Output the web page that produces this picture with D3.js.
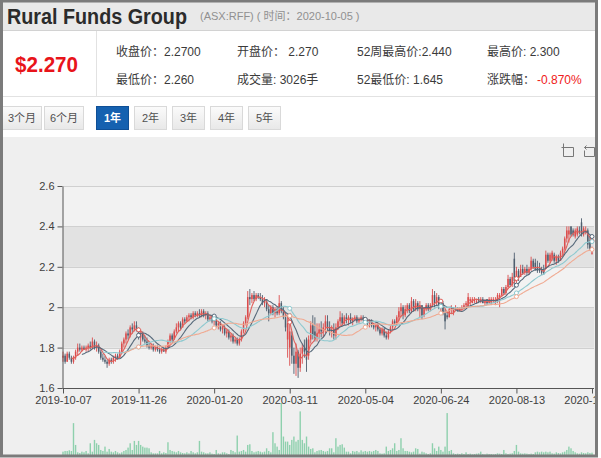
<!DOCTYPE html>
<html>
<head>
<meta charset="utf-8">
<script src="https://cdn.jsdelivr.net/npm/d3@7"></script>
<style>
  body { margin: 0; background: #fff; }
  svg { display: block; }
</style>
</head>
<body>
<svg id="chart" width="601" height="458"></svg>
<script>
// daily candles, 2019-10-07 .. 2020-10-02 (index = trading day)
const openPx = [
  1.75,1.76,1.73,1.77,1.75,1.73,1.75,1.78,1.80,1.79,
  1.80,1.79,1.80,1.81,1.80,1.83,1.80,1.81,1.78,1.75,
  1.74,1.73,1.72,1.74,1.73,1.75,1.76,1.75,1.78,1.82,
  1.84,1.87,1.86,1.90,1.89,1.91,1.89,1.85,1.87,1.84,
  1.83,1.81,1.80,1.81,1.79,1.80,1.79,1.78,1.79,1.78,
  1.80,1.83,1.86,1.84,1.88,1.90,1.92,1.90,1.94,1.93,
  1.95,1.96,1.95,1.97,1.96,1.97,1.96,1.98,1.96,1.97,
  1.94,1.95,1.93,1.94,1.91,1.92,1.89,1.90,1.87,1.88,
  1.85,1.86,1.83,1.84,1.82,1.84,1.88,1.92,1.95,2.05,
  2.04,2.06,2.04,2.06,2.05,2.04,2.02,2.03,1.99,1.97,
  2.00,1.97,1.99,1.97,2.02,1.98,1.95,1.84,1.80,1.86,
  1.76,1.72,1.78,1.70,1.77,1.80,1.84,1.76,1.84,1.91,
  1.88,1.85,1.87,1.89,1.88,1.90,1.93,1.90,1.88,1.89,
  1.86,1.90,1.93,1.95,1.92,1.95,1.94,1.95,1.93,1.94,
  1.95,1.93,1.94,1.95,1.94,1.93,1.92,1.93,1.91,1.90,
  1.91,1.89,1.87,1.89,1.86,1.85,1.88,1.90,1.93,1.92,
  1.95,1.98,2.00,1.96,1.99,2.01,1.98,2.03,1.99,2.02,
  1.99,2.01,1.96,1.99,2.01,1.99,2.01,2.06,2.02,2.05,
  2.00,2.02,1.97,1.96,1.95,1.99,1.97,1.99,1.99,1.98,
  1.99,2.00,2.01,2.00,2.03,2.02,2.03,2.02,2.04,2.03,
  2.04,2.02,2.04,2.02,2.02,2.03,2.02,2.03,2.05,2.06,
  2.09,2.07,2.10,2.14,2.11,2.24,2.13,2.18,2.15,2.19,
  2.17,2.19,2.17,2.19,2.23,2.22,2.20,2.19,2.19,2.18,
  2.19,2.26,2.23,2.24,2.26,2.23,2.25,2.23,2.27,2.29,
  2.34,2.36,2.40,2.38,2.35,2.36,2.38,2.42,2.36,2.37,
  2.38,2.33,2.27
];
const highPx = [
  1.78,1.77,1.78,1.78,1.76,1.76,1.79,1.82,1.82,1.81,
  1.81,1.81,1.82,1.83,1.85,1.84,1.83,1.82,1.79,1.77,
  1.76,1.74,1.75,1.75,1.76,1.77,1.77,1.79,1.83,1.85,
  1.88,1.89,1.91,1.92,1.93,1.93,1.90,1.89,1.88,1.86,
  1.85,1.83,1.82,1.82,1.81,1.81,1.80,1.80,1.80,1.81,
  1.84,1.87,1.87,1.89,1.92,1.93,1.93,1.95,1.95,1.96,
  1.97,1.97,1.98,1.98,1.98,1.99,1.99,1.99,1.98,1.98,
  1.96,1.96,1.95,1.94,1.93,1.93,1.91,1.91,1.89,1.89,
  1.87,1.87,1.85,1.85,1.85,1.89,1.93,1.96,2.08,2.09,
  2.07,2.08,2.07,2.07,2.07,2.06,2.05,2.04,2.01,2.01,
  2.01,2.00,2.00,2.06,2.03,2.00,1.97,1.96,1.94,1.88,
  1.80,1.82,1.79,1.80,1.82,1.84,1.85,1.86,1.93,1.96,
  1.95,1.92,1.92,1.93,1.92,1.96,1.96,1.93,1.91,1.92,
  1.92,1.94,1.98,1.97,1.96,1.97,1.96,1.97,1.95,1.96,
  1.96,1.95,1.96,1.96,1.95,1.94,1.94,1.94,1.92,1.92,
  1.92,1.90,1.90,1.90,1.88,1.89,1.91,1.94,1.94,1.96,
  2.00,2.02,2.01,2.01,2.02,2.02,2.05,2.04,2.04,2.03,
  2.03,2.01,2.00,2.02,2.02,2.02,2.09,2.08,2.07,2.06,
  2.04,2.03,1.99,1.98,2.00,2.01,2.00,2.01,2.00,2.00,
  2.01,2.02,2.03,2.07,2.05,2.05,2.05,2.04,2.05,2.05,
  2.05,2.04,2.04,2.05,2.05,2.05,2.05,2.07,2.07,2.10,
  2.10,2.11,2.16,2.15,2.17,2.27,2.20,2.19,2.21,2.21,
  2.20,2.21,2.20,2.25,2.24,2.24,2.23,2.22,2.20,2.21,
  2.28,2.27,2.27,2.28,2.27,2.26,2.26,2.28,2.30,2.35,
  2.40,2.40,2.40,2.39,2.39,2.40,2.40,2.44,2.40,2.40,
  2.39,2.35,2.30
];
const lowPx = [
  1.73,1.72,1.73,1.74,1.72,1.72,1.74,1.76,1.78,1.78,
  1.79,1.78,1.78,1.79,1.79,1.79,1.78,1.77,1.74,1.73,
  1.72,1.70,1.71,1.72,1.72,1.73,1.74,1.75,1.77,1.80,
  1.82,1.84,1.85,1.87,1.88,1.88,1.84,1.81,1.83,1.82,
  1.80,1.79,1.79,1.78,1.78,1.78,1.77,1.77,1.78,1.77,
  1.80,1.82,1.83,1.84,1.87,1.88,1.89,1.90,1.92,1.93,
  1.93,1.94,1.94,1.95,1.95,1.95,1.95,1.95,1.94,1.93,
  1.93,1.92,1.91,1.90,1.89,1.88,1.87,1.86,1.85,1.84,
  1.83,1.82,1.82,1.81,1.81,1.83,1.87,1.91,1.94,2.01,
  2.02,2.03,2.03,2.04,2.03,2.01,2.00,1.98,1.93,1.96,
  1.96,1.95,1.96,1.96,1.97,1.94,1.88,1.75,1.71,1.72,
  1.67,1.66,1.65,1.68,1.72,1.75,1.68,1.74,1.82,1.84,
  1.83,1.83,1.84,1.85,1.85,1.87,1.88,1.86,1.85,1.84,
  1.84,1.89,1.91,1.91,1.91,1.92,1.91,1.92,1.91,1.93,
  1.92,1.92,1.93,1.93,1.92,1.91,1.90,1.90,1.89,1.88,
  1.88,1.86,1.86,1.85,1.84,1.84,1.87,1.89,1.91,1.91,
  1.93,1.95,1.94,1.95,1.97,1.97,1.97,1.98,1.98,1.98,
  1.95,1.94,1.95,1.98,1.98,1.98,2.00,2.00,2.01,1.99,
  1.98,1.96,1.89,1.94,1.95,1.97,1.96,1.98,1.98,1.98,
  1.98,1.99,2.00,2.00,2.01,2.02,2.02,2.02,2.02,2.02,
  2.02,2.01,2.01,2.02,2.01,2.02,2.01,2.02,2.00,2.05,
  2.06,2.06,2.09,2.10,2.10,2.10,2.12,2.13,2.15,2.16,
  2.16,2.16,2.16,2.18,2.19,2.18,2.17,2.17,2.16,2.16,
  2.19,2.22,2.22,2.23,2.22,2.21,2.22,2.23,2.25,2.28,
  2.32,2.32,2.35,2.35,2.34,2.35,2.36,2.35,2.35,2.36,
  2.29,2.28,2.26
];
const closePx = [
  1.76,1.73,1.77,1.75,1.73,1.75,1.78,1.80,1.79,1.80,
  1.79,1.80,1.81,1.80,1.83,1.80,1.81,1.78,1.75,1.74,
  1.73,1.72,1.74,1.73,1.75,1.76,1.75,1.78,1.82,1.84,
  1.87,1.86,1.90,1.89,1.91,1.89,1.85,1.87,1.84,1.83,
  1.81,1.80,1.81,1.79,1.80,1.79,1.78,1.79,1.78,1.80,
  1.83,1.86,1.84,1.88,1.90,1.92,1.90,1.94,1.93,1.95,
  1.96,1.95,1.97,1.96,1.97,1.96,1.98,1.96,1.97,1.94,
  1.95,1.93,1.94,1.91,1.92,1.89,1.90,1.87,1.88,1.85,
  1.86,1.83,1.84,1.82,1.84,1.88,1.92,1.95,2.05,2.04,
  2.06,2.04,2.06,2.05,2.04,2.02,2.03,1.99,1.97,2.00,
  1.97,1.99,1.97,2.02,1.98,1.95,1.90,1.92,1.88,1.76,
  1.72,1.78,1.70,1.77,1.80,1.78,1.74,1.84,1.91,1.86,
  1.85,1.87,1.89,1.88,1.90,1.93,1.90,1.88,1.89,1.86,
  1.90,1.93,1.95,1.92,1.95,1.94,1.95,1.93,1.94,1.95,
  1.93,1.94,1.95,1.94,1.93,1.92,1.93,1.91,1.90,1.91,
  1.89,1.87,1.89,1.86,1.85,1.88,1.90,1.93,1.92,1.95,
  1.98,2.00,1.96,1.99,2.01,1.98,2.03,1.99,2.02,1.99,
  2.01,1.96,1.99,2.01,1.99,2.01,2.06,2.02,2.05,2.00,
  2.02,1.97,1.93,1.95,1.99,2.00,1.99,1.99,1.98,1.99,
  2.00,2.01,2.02,2.05,2.04,2.04,2.04,2.03,2.03,2.04,
  2.02,2.03,2.02,2.04,2.04,2.04,2.03,2.06,2.06,2.09,
  2.07,2.10,2.14,2.11,2.15,2.13,2.18,2.15,2.19,2.17,
  2.19,2.17,2.19,2.23,2.20,2.19,2.18,2.18,2.17,2.17,
  2.26,2.23,2.26,2.27,2.23,2.25,2.23,2.27,2.29,2.34,
  2.38,2.38,2.36,2.36,2.38,2.39,2.37,2.36,2.39,2.38,
  2.31,2.29,2.27
];
// volume, rough relative units
const volume = [
  10,12,12,14,12,95,30,8,6,10,
  8,12,5,35,10,45,35,30,15,12,
  25,10,18,10,8,12,8,5,8,12,
  15,22,35,15,42,30,42,30,25,22,
  22,20,8,5,5,5,12,5,8,6,
  38,15,12,10,8,12,8,6,5,8,
  5,12,8,5,8,42,10,8,5,5,
  8,4,3,15,5,4,8,8,5,3,
  15,12,8,58,10,12,15,10,30,32,
  12,8,10,12,10,8,10,20,12,8,
  68,35,25,15,155,55,40,40,30,45,
  55,40,45,130,45,35,55,25,18,20,
  8,12,14,15,12,10,12,20,20,8,
  50,25,30,32,22,10,10,5,12,10,
  12,8,14,10,12,10,12,10,12,15,
  12,5,4,5,25,12,15,20,35,12,
  15,50,20,12,12,10,8,10,20,18,
  4,10,8,5,3,5,35,20,12,25,
  15,10,25,125,12,15,5,3,4,3,
  5,3,8,3,4,2,3,4,5,10,
  3,2,4,3,3,2,3,5,4,3,
  15,5,3,4,5,12,30,10,5,4,
  5,4,3,4,3,8,10,8,10,8,
  10,8,10,5,4,8,6,5,8,10,
  15,25,20,12,8,5,4,8,6,5,
  8,6,7
];

const xTickIndex = [0, 36, 72, 108, 144, 180, 216, 252];
const xTickLabels = ["2019-10-07", "2019-11-26", "2020-01-20", "2020-03-11",
                     "2020-05-04", "2020-06-24", "2020-08-13", "2020-10-02"];
const yTickValues = [1.6, 1.8, 2.0, 2.2, 2.4, 2.6];
const yTickLabels = ["1.6", "1.8", "2", "2.2", "2.4", "2.6"];
const maPeriods = [5, 10, 20, 30];
const maColors = ["#e0605a", "#56697a", "#8ec9cf", "#f0aa92"];

const rangeButtons = ["3个月", "6个月", "1年", "2年", "3年", "4年", "5年"];
const infoRow1 = [["收盘价：2.2700", 116], ["开盘价： 2.270", 237], ["52周最高价:2.440", 357], ["最高价: 2.300", 487]];
const infoRow2 = [["最低价：2.260", 116], ["成交量: 3026手", 237], ["52最低价: 1.645", 357], ["涨跌幅： ", 487]];

const fontFamily = '"Liberation Sans", Arial, "Noto Sans CJK SC", sans-serif';
const upColor = "#db4c4c";
const downColor = "#4e5e6e";

const svg = d3.select("#chart");
const defs = svg.append("defs");
defs.append("clipPath").attr("id", "frameClip")
    .append("rect").attr("x", 3).attr("y", 2).attr("width", 592).attr("height", 453);
let grad = defs.append("linearGradient").attr("id", "btnGrad")
    .attr("x1", 0).attr("y1", 0).attr("x2", 0).attr("y2", 1);
grad.append("stop").attr("offset", "0%").attr("stop-color", "#fbfbfb");
grad.append("stop").attr("offset", "100%").attr("stop-color", "#e8e8e8");

const root = svg.append("g").attr("clip-path", "url(#frameClip)");

// ---- header ----
root.append("rect").attr("x", 0).attr("y", 0).attr("width", 601).attr("height", 31).attr("fill", "#e9e9e9");
root.append("line").attr("x1", 0).attr("x2", 601).attr("y1", 30.5).attr("y2", 30.5).attr("stroke", "#d2d2d2");
root.append("rect").attr("x", 0).attr("y", 137).attr("width", 601).attr("height", 321).attr("fill", "#efefef");
root.append("line").attr("x1", 0).attr("x2", 601).attr("y1", 96.5).attr("y2", 96.5).attr("stroke", "#e2e2e2");
root.append("line").attr("x1", 96.5).attr("x2", 96.5).attr("y1", 31).attr("y2", 96).attr("stroke", "#e2e2e2");

root.append("text").attr("x", 7).attr("y", 24)
    .attr("font-family", fontFamily).attr("font-size", 22).attr("font-weight", "bold")
    .attr("fill", "#2b2b2b").attr("textLength", 180).attr("lengthAdjust", "spacingAndGlyphs")
    .text("Rural Funds Group");
root.append("text").attr("x", 200).attr("y", 20)
    .attr("font-family", fontFamily).attr("font-size", 11).attr("fill", "#909090")
    .text("(ASX:RFF) ( 时间：2020-10-05 )");

root.append("text").attr("x", 15).attr("y", 72)
    .attr("font-family", fontFamily).attr("font-size", 22).attr("font-weight", "bold")
    .attr("fill", "#e8141a").attr("textLength", 63).attr("lengthAdjust", "spacingAndGlyphs")
    .text("$2.270");

[[infoRow1, 56], [infoRow2, 84]].forEach(([row, yy]) => {
    row.forEach(([t, xx]) => {
        root.append("text").attr("x", xx).attr("y", yy)
            .attr("font-family", fontFamily).attr("font-size", 12).attr("fill", "#3a3a3a")
            .text(t);
    });
});
root.append("text").attr("x", 537).attr("y", 84)
    .attr("font-family", fontFamily).attr("font-size", 12).attr("fill", "#f02020")
    .text("-0.870%");

// range buttons
let btnX = [2, 44, 96, 134, 172, 210, 248];
let btnW = [39, 39, 32, 32, 32, 32, 32];
let btn = root.append("g").selectAll("g").data(rangeButtons).join("g")
    .attr("transform", (d, i) => `translate(${btnX[i]},106)`);
btn.append("rect").attr("x", 0.5).attr("y", 0.5).attr("width", (d, i) => btnW[i]).attr("height", 23)
    .attr("fill", d => d === "1年" ? "#1561b0" : "url(#btnGrad)")
    .attr("stroke", d => d === "1年" ? "#0f4f96" : "#d9d9d9");
btn.append("text").attr("x", (d, i) => btnW[i] / 2 + 0.5).attr("y", 16)
    .attr("text-anchor", "middle").attr("font-family", fontFamily).attr("font-size", 11)
    .attr("font-weight", d => d === "1年" ? "bold" : "normal")
    .attr("fill", d => d === "1年" ? "#ffffff" : "#505050")
    .text(d => d);

// toolbox icons (zoom / restore)
root.append("path").attr("d", "M561.5,147.5 H573.5 V156.5 H563.5 V143.5")
    .attr("fill", "none").attr("stroke", "#777").attr("stroke-width", 1);
root.append("path").attr("d", "M587.5,147.5 H594.5 V156.5 H584.5 V150.5 M584.5,147.5 H589 M586.5,145.5 L584.5,147.5 L586.5,149.5")
    .attr("fill", "none").attr("stroke", "#777").attr("stroke-width", 1);

// ---- price chart ----
const plotLeft = 63, plotRight = 594;
const x = d3.scaleLinear().domain([0, closePx.length - 1]).range([63, 592]);
const y = d3.scaleLinear().domain([1.6, 2.6]).range([388, 186]);
const yVol = d3.scaleLinear().domain([0, d3.max(volume)]).range([455, 403]);

// alternating bands
let bands = root.append("g");
for (let k = 0; k < yTickValues.length - 1; k++) {
    bands.append("rect")
        .attr("x", plotLeft).attr("width", plotRight - plotLeft)
        .attr("y", y(yTickValues[k + 1])).attr("height", y(yTickValues[k]) - y(yTickValues[k + 1]))
        .attr("fill", k % 2 === 1 ? "#e2e2e2" : "#f2f2f2");
}
bands.selectAll("line.grid").data(yTickValues).join("line")
    .attr("x1", plotLeft).attr("x2", plotRight)
    .attr("y1", d => Math.round(y(d)) + 0.5).attr("y2", d => Math.round(y(d)) + 0.5)
    .attr("stroke", "#d0d0d0");

// volume bars
root.append("g").selectAll("rect").data(volume).join("rect")
    .attr("x", (d, i) => x(i) - 0.7).attr("width", 1.4)
    .attr("y", d => yVol(d)).attr("height", d => 455 - yVol(d))
    .attr("fill", "#8ed0ad");

// candles
let candles = closePx.map((c, i) => ({ i: i, o: openPx[i], h: highPx[i], l: lowPx[i], c: c }));
let gC = root.append("g").selectAll("g").data(candles).join("g");
gC.append("line")
    .attr("x1", d => x(d.i)).attr("x2", d => x(d.i))
    .attr("y1", d => y(d.h)).attr("y2", d => y(d.l))
    .attr("stroke", d => d.c >= d.o ? upColor : downColor).attr("stroke-width", 0.9);
gC.append("rect")
    .attr("x", d => x(d.i) - 0.75).attr("width", 1.5)
    .attr("y", d => y(Math.max(d.o, d.c)))
    .attr("height", d => Math.max(1, Math.abs(y(d.o) - y(d.c))))
    .attr("fill", d => d.c >= d.o ? upColor : downColor);

// moving averages
maPeriods.forEach((n, k) => {
    let pts = [];
    for (let i = n - 1; i < closePx.length; i++) {
        pts.push({ i: i, v: d3.mean(closePx.slice(i - n + 1, i + 1)) });
    }
    root.append("path").datum(pts)
        .attr("fill", "none").attr("stroke", maColors[k]).attr("stroke-width", 1.1)
        .attr("d", d3.line().x(d => x(d.i)).y(d => y(d.v)).curve(d3.curveMonotoneX));
    root.append("g").selectAll("circle")
        .data(pts.filter(p => xTickIndex.includes(p.i))).join("circle")
        .attr("cx", d => x(d.i)).attr("cy", d => y(d.v)).attr("r", 2)
        .attr("fill", "#fff").attr("stroke", maColors[k]).attr("stroke-width", 1);
});

// axes
let yAxis = root.append("g").attr("transform", `translate(${plotLeft - 0.5},0)`)
    .call(d3.axisLeft(y).tickValues(yTickValues).tickFormat((d, i) => yTickLabels[i]).tickSize(5).tickSizeOuter(0));
let xAxis = root.append("g").attr("transform", `translate(0,${388.5})`)
    .call(d3.axisBottom(x).tickValues(xTickIndex).tickFormat((d, i) => xTickLabels[i]).tickSize(5).tickSizeOuter(0));
[yAxis, xAxis].forEach(a => {
    a.select(".domain").attr("stroke", "#555");
    a.selectAll(".tick line").attr("stroke", "#555");
    a.selectAll("text").attr("font-family", fontFamily).attr("font-size", 11).attr("fill", "#404040");
});
xAxis.select(".domain").attr("d", `M${plotLeft - 0.5},0H${plotRight}`);
xAxis.selectAll("text").attr("dy", "0.65em");

// outer frame
svg.append("rect").attr("x", 1.5).attr("y", 1).attr("width", 595).attr("height", 455)
    .attr("fill", "none").attr("stroke", "#7b7b7b").attr("stroke-width", 3);
</script>
</body>
</html>
